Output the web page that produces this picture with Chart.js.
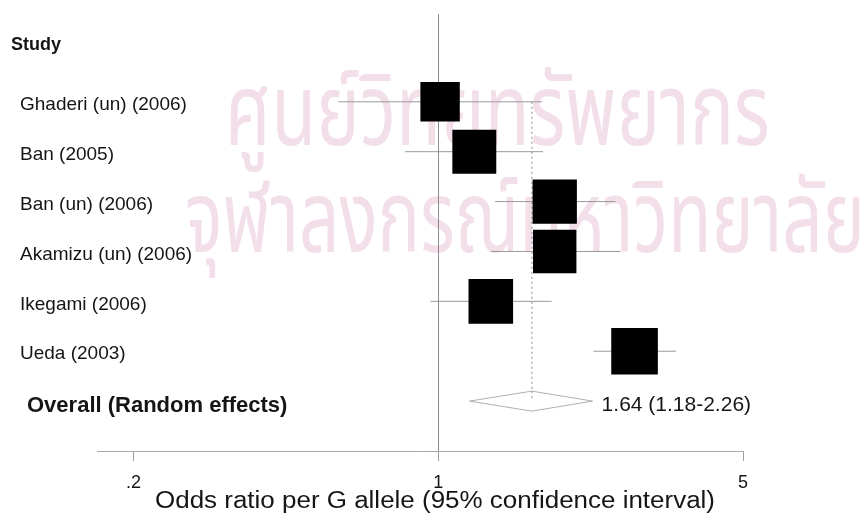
<!DOCTYPE html>
<html>
<head>
<meta charset="utf-8">
<script src="https://cdn.jsdelivr.net/npm/chart.js@4.4.1/dist/chart.umd.min.js"></script>
<style>
  html, body { margin: 0; padding: 0; background: #fff; }
  #wrap { width: 865px; height: 518px; }
</style>
</head>
<body>
<div id="wrap"><canvas id="c" width="865" height="518"></canvas></div>
<script>
// Forest plot: odds ratio per G allele, by study
const studies = ['Ghaderi (un) (2006)', 'Ban (2005)', 'Ban (un) (2006)', 'Akamizu (un) (2006)', 'Ikegami (2006)', 'Ueda (2003)'];
const oddsRatio = [1.01, 1.21, 1.85, 1.85, 1.32, 2.82];
const ciLow     = [0.59, 0.84, 1.35, 1.32, 0.96, 2.27];
const ciHigh    = [1.73, 1.74, 2.55, 2.62, 1.82, 3.51];
const weights   = [13.5, 16.8, 17.1, 16.4, 17.3, 18.9];   // % weight, box area proportional

const overallLabel = 'Overall (Random effects)';
const overallOR = 1.64, overallLow = 1.18, overallHigh = 2.26;

const tickValues = [0.2, 1, 5];
const tickLabels = ['.2', '1', '5'];
const headerLabel = 'Study';
const axisTitle = 'Odds ratio per G allele (95% confidence interval)';
const watermark = ['ศูนย์วิทยทรัพยากร', 'จุฬาลงกรณ์มหาวิทยาลัย'];

const FONT = '"Liberation Sans", Arial, Helvetica, sans-serif';
const overallRow = studies.length + 1;

// whisker lines, one dataset per study
const ciSets = studies.map((s, i) => ({
  type: 'line',
  label: s + ' CI',
  data: [{ x: ciLow[i], y: i + 1 }, { x: ciHigh[i], y: i + 1 }],
  borderColor: '#9a9a9a',
  borderWidth: 1,
  pointRadius: 0,
  order: 3
}));

const boxSide = i => 10.72 * Math.sqrt(weights[i]);

const boxSet = {
  type: 'scatter',
  label: 'OR',
  data: studies.map((s, i) => ({ x: oddsRatio[i], y: i + 1 })),
  pointStyle: 'rect',
  // rect side is radius * sqrt(2)
  pointRadius: ctx => boxSide(ctx.dataIndex) / Math.SQRT2,
  pointHoverRadius: ctx => boxSide(ctx.dataIndex) / Math.SQRT2,
  backgroundColor: '#000',
  borderWidth: 0,
  order: 0
};

const pooledLine = {
  type: 'line',
  label: 'pooled',
  data: [{ x: overallOR, y: 1 }, { x: overallOR, y: overallRow }],
  borderColor: '#8a8a8a',
  borderWidth: 1,
  borderDash: [2, 3],
  pointRadius: 0,
  order: 4
};

// draw text squeezed/stretched horizontally to a given width
function fitText(ctx, text, x0, x1, y) {
  const w = ctx.measureText(text).width;
  ctx.save();
  ctx.translate(x0, y);
  ctx.scale((x1 - x0) / w, 1);
  ctx.textAlign = 'left';
  ctx.fillText(text, 0, 0);
  ctx.restore();
}

// row labels, diamond, axis title, background lettering
const decor = {
  id: 'decor',
  beforeDraw(chart) {
    const ctx = chart.ctx;
    ctx.save();
    ctx.fillStyle = '#f3dfe9';
    ctx.textBaseline = 'alphabetic';
    ctx.font = '100px "Noto Sans Thai", "Noto Sans", "DejaVu Sans", sans-serif';
    fitText(ctx, watermark[0], 225, 770, 145);
    fitText(ctx, watermark[1], 185, 865, 252);
    ctx.restore();
  },
  afterDatasetsDraw(chart) {
    const { ctx, scales: { x, y } } = chart;
    ctx.save();
    // pooled estimate diamond
    const yc = y.getPixelForValue(overallRow);
    const h = 10;
    ctx.beginPath();
    ctx.moveTo(x.getPixelForValue(overallLow), yc);
    ctx.lineTo(x.getPixelForValue(overallOR), yc - h);
    ctx.lineTo(x.getPixelForValue(overallHigh), yc);
    ctx.lineTo(x.getPixelForValue(overallOR), yc + h);
    ctx.closePath();
    ctx.fillStyle = '#fff';
    ctx.fill();
    ctx.strokeStyle = '#b0b0b0';
    ctx.lineWidth = 1;
    ctx.stroke();
    // dotted line continues through the diamond
    ctx.beginPath();
    ctx.setLineDash([2, 3]);
    ctx.moveTo(x.getPixelForValue(overallOR), yc - h);
    ctx.lineTo(x.getPixelForValue(overallOR), yc);
    ctx.strokeStyle = '#8a8a8a';
    ctx.stroke();
    ctx.setLineDash([]);

    ctx.fillStyle = '#151515';
    ctx.textBaseline = 'middle';
    ctx.textAlign = 'left';
    ctx.font = 'bold 18px ' + FONT;
    ctx.fillText(headerLabel, 11, y.getPixelForValue(0) - 7);
    ctx.font = '19px ' + FONT;
    studies.forEach((s, i) => ctx.fillText(s, 20, y.getPixelForValue(i + 1) + 3));
    ctx.font = 'bold 22px ' + FONT;
    ctx.fillText(overallLabel, 27, yc + 5);
    ctx.font = '21px ' + FONT;
    ctx.fillText(overallOR.toFixed(2) + ' (' + overallLow.toFixed(2) + '-' + overallHigh.toFixed(2) + ')',
      x.getPixelForValue(overallHigh) + 9, yc + 4);
    ctx.font = '23px ' + FONT;
    fitText(ctx, axisTitle, 155, 715, 502);
    ctx.restore();
  }
};

new Chart(document.getElementById('c'), {
  data: { datasets: [boxSet, ...ciSets, pooledLine] },
  options: {
    responsive: false,
    animation: false,
    events: [],
    layout: { autoPadding: false, padding: { left: 97, right: 122, top: 14, bottom: 0 } },
    plugins: { legend: { display: false }, tooltip: { enabled: false } },
    scales: {
      x: {
        type: 'logarithmic',
        min: 0.165,
        max: 5,
        afterBuildTicks: scale => { scale.ticks = tickValues.map(v => ({ value: v })); },
        afterFit: scale => { scale.height = 67; },
        ticks: {
          autoSkip: false,
          maxRotation: 0,
          padding: 11,
          color: '#151515',
          font: { family: FONT, size: 18 },
          callback: v => tickLabels[tickValues.indexOf(v)] ?? ''
        },
        grid: {
          color: ctx => (ctx.tick && ctx.tick.value === 1) ? '#8c8c8c' : 'rgba(0,0,0,0)',
          tickColor: '#a0a0a0',
          tickLength: 10,
          lineWidth: 1
        },
        border: { display: true, color: '#a8a8a8', width: 1 }
      },
      y: {
        type: 'linear',
        reverse: true,
        min: -0.76,
        max: 8,
        display: false
      }
    }
  },
  plugins: [decor]
});
</script>
</body>
</html>
